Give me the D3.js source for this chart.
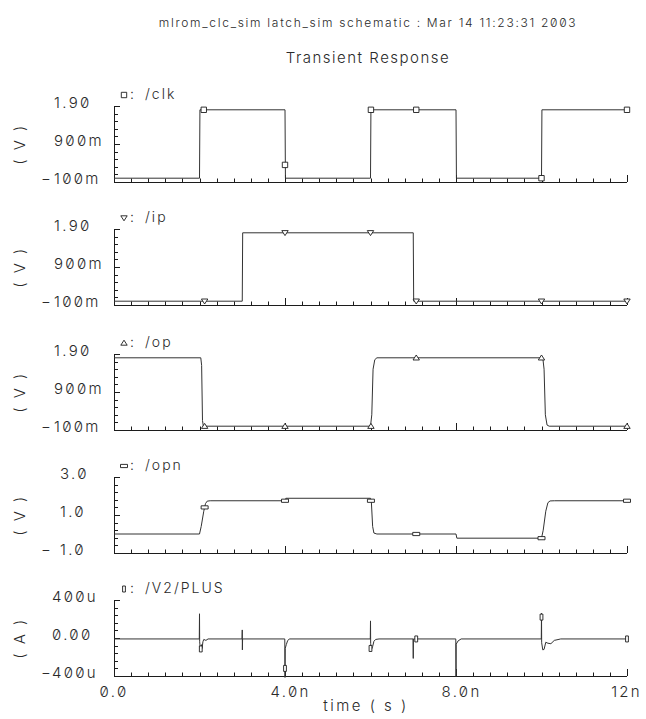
<!DOCTYPE html>
<html>
<head>
<meta charset="utf-8">
<script src="https://cdn.jsdelivr.net/npm/d3@7"></script>
<style>
  html, body { margin: 0; padding: 0; background: #fff; }
  svg { display: block; }
  text {
    font-family: Inter, "DejaVu Sans", sans-serif;
    font-feature-settings: "zero" 1;
    font-weight: 300;
    fill: #2a2a2a;
  }
</style>
</head>
<body>
<svg id="chart" width="646" height="719"></svg>
<script>
// ---- data -------------------------------------------------------------
const headerText = "mlrom_clc_sim latch_sim schematic : Mar 14 11:23:31 2003";
const titleText = "Transient Response";
const xAxisTitle = "time ( s )";

const timeDomain = [0, 12];                     // ns
const timeTicks = [0, 4, 8, 12];
const timeTickLabels = ["0.0", "4.0n", "8.0n", "12n"];

const signalNames = ["/clk", "/ip", "/op", "/opn", "/V2/PLUS"];
const yUnits = ["( V )", "( V )", "( V )", "( V )", "( A )"];
const yDomains = [[-0.1, 1.9], [-0.1, 1.9], [-0.1, 1.9], [-1, 3], [-400, 400]];
const yTickLabels = [
  ["-100m", "900m", "1.90"],
  ["-100m", "900m", "1.90"],
  ["-100m", "900m", "1.90"],
  ["-1.0", "1.0", "3.0"],
  ["-400u", "0.00", "400u"]
];

// waveforms: [time (ns), value]  (V for nodes, uA for V2/PLUS)
const clkWave = [[0, 0], [2.0, 0], [2.01, 1.8], [4.0, 1.8], [4.01, 0], [6.0, 0], [6.01, 1.8],
  [8.0, 1.8], [8.01, 0], [10.0, 0], [10.01, 1.8], [12, 1.8]];
const clkMarks = [[2.1, 1.8], [4.0, 0.35], [6.01, 1.8], [7.07, 1.8], [10.0, 0], [12, 1.8]];

const ipWave = [[0, 0], [3.0, 0], [3.01, 1.8], [7.0, 1.8], [7.01, 0], [12, 0]];
const ipMarks = [[2.12, 0], [4.0, 1.8], [6.0, 1.8], [7.07, 0], [10.0, 0], [12, 0]];

const opWave = [[0, 1.8], [2.03, 1.8], [2.05, 1.6], [2.07, 0.15], [2.09, 0], [6.0, 0],
  [6.03, 0.3], [6.06, 1.5], [6.1, 1.75], [6.15, 1.8], [10.03, 1.8], [10.06, 1.5],
  [10.09, 0.3], [10.13, 0.03], [10.18, 0], [12, 0]];
const opMarks = [[2.12, 0], [4.0, 0], [6.01, 0], [7.07, 1.8], [10.0, 1.8], [12, 0]];

const opnWave = [[0, 0], [2.0, 0], [2.04, 0.4], [2.1, 1.2], [2.14, 1.6], [2.18, 1.73],
  [2.25, 1.75], [4.0, 1.75], [4.02, 1.88], [6.0, 1.88], [6.02, 1.7], [6.05, 0.4],
  [6.08, 0.05], [6.15, 0], [8.0, 0], [8.02, -0.22], [10.0, -0.22], [10.04, 0.2],
  [10.1, 1.2], [10.15, 1.65], [10.2, 1.74], [10.3, 1.75], [12, 1.75]];
const opnMarks = [[2.12, 1.4], [4.0, 1.75], [6.01, 1.75], [7.07, 0], [10.0, -0.22], [12, 1.75]];

const v2Wave = [[0, -10], [1.995, -10], [2.0, 255], [2.004, -40], [2.02, -115], [2.035, -120],
  [2.05, -70], [2.06, -110], [2.08, -40], [2.1, -15], [2.15, -25], [2.2, -10],
  [2.995, -10], [3.0, 85], [3.003, -125], [3.008, -10],
  [3.995, -10], [4.0, -415], [4.005, -110], [4.03, -70], [4.06, -30], [4.1, -10],
  [5.995, -10], [6.0, 180], [6.004, -60], [6.02, -125], [6.05, -90], [6.08, -35],
  [6.12, -15], [6.2, -10],
  [6.995, -10], [7.0, -215], [7.004, -10],
  [7.995, -10], [8.0, -405], [8.004, -65], [8.05, -30], [8.12, -10],
  [9.995, -10], [10.0, 260], [10.004, -50], [10.03, -125], [10.06, -120], [10.1, -45],
  [10.15, -55], [10.22, -60], [10.3, -25], [10.45, -10], [12, -10]];
const v2Marks = [[2.03, -115], [4.0, -320], [6.0, -110], [7.07, -10], [10.0, 220], [12, -10]];

const waves = [clkWave, ipWave, opWave, opnWave, v2Wave];
const marks = [clkMarks, ipMarks, opMarks, opnMarks, v2Marks];
const markShapes = ["square", "triDown", "triUp", "flat", "tall"];

// ---- layout ------------------------------------------------------------
const W = 646, H = 719;
const plotLeft = 114, plotRight = 627;
const panelTops = [106, 229, 354, 477, 600];
const panelH = 76;
const labelDigitX = [54, 54, 54, 60, 52];
const minusX = 41;
const ink = "#1c1c1c";
const traceInk = "#333";

const svg = d3.select("#chart");
svg.append("rect").attr("width", W).attr("height", H).attr("fill", "#fff");

const x = d3.scaleLinear().domain(timeDomain).range([plotLeft, plotRight]);

// headers
svg.append("text").attr("x", 368).attr("y", 27).attr("text-anchor", "middle")
  .style("font-size", "12px").style("letter-spacing", "1.7px").text(headerText);
svg.append("text").attr("x", 368).attr("y", 63).attr("text-anchor", "middle")
  .style("font-size", "15px").style("letter-spacing", "1.5px").text(titleText);

function markPath(shape) {
  switch (shape) {
    case "square": return "M-2.7,-2.7H2.7V2.7H-2.7Z";
    case "triDown": return "M-3.2,-2.2H3.2L0,2.8Z";
    case "triUp": return "M-3.2,2.2H3.2L0,-2.8Z";
    case "flat": return "M-3.5,-1.6H3.5V1.6H-3.5Z";
    case "tall": return "M-1.4,-3H1.4V3H-1.4Z";
  }
}

waves.forEach((wave, i) => {
  const top = panelTops[i], bottom = top + panelH;
  const dom = yDomains[i];
  const y = d3.scaleLinear().domain(dom).range([bottom, top]);
  const g = svg.append("g");

  // y axis line + ticks (inside)
  const yTicks = d3.range(11).map(k => dom[0] + (dom[1] - dom[0]) * k / 10);
  g.append("line").attr("x1", plotLeft).attr("x2", plotLeft)
    .attr("y1", top).attr("y2", bottom).attr("stroke", ink).attr("stroke-width", 1)
    .attr("shape-rendering", "crispEdges");
  g.selectAll(".yt").data(yTicks.slice(1)).join("line")
    .attr("x1", plotLeft).attr("x2", (d, k) => plotLeft + ((k === 4 || k === 9) ? 6 : 4))
    .attr("y1", d => Math.round(y(d)) + 0.5).attr("y2", d => Math.round(y(d)) + 0.5)
    .attr("stroke", ink).attr("stroke-width", 1);

  // x axis line + ticks (inside)
  g.append("line").attr("x1", plotLeft).attr("x2", plotRight)
    .attr("y1", bottom).attr("y2", bottom).attr("stroke", ink).attr("stroke-width", 1)
    .attr("shape-rendering", "crispEdges");
  const xTicks = d3.range(31).map(k => k * 0.4);
  g.selectAll(".xt").data(xTicks.slice(1)).join("line")
    .attr("x1", d => Math.round(x(d)) + 0.5).attr("x2", d => Math.round(x(d)) + 0.5)
    .attr("y1", bottom).attr("y2", (d, k) => bottom - ((k + 1) % 10 === 0 ? 7 : 3.5))
    .attr("stroke", ink).attr("stroke-width", 1);

  // y tick labels: bottom, middle, top
  const labelVals = [dom[0], (dom[0] + dom[1]) / 2, dom[1]];
  labelVals.forEach((v, k) => {
    const lab = yTickLabels[i][k];
    const t = g.append("text").attr("y", y(v) + 2).style("font-size", "15px")
      .style("letter-spacing", "2.3px");
    if (lab.startsWith("-")) {
      t.append("tspan").attr("x", minusX).text("\u2212");
      t.append("tspan").attr("x", labelDigitX[i]).text(lab.slice(1));
    } else {
      t.attr("x", labelDigitX[i]).text(lab);
    }
  });

  // unit label
  g.append("text").attr("transform", `translate(25,${(top + bottom) / 2}) rotate(-90)`)
    .attr("text-anchor", "middle").style("font-size", "15px").style("letter-spacing", "2.5px")
    .text(yUnits[i]);

  // legend
  g.append("path").attr("d", markPath(markShapes[i]))
    .attr("transform", `translate(124,${top - 11})`)
    .attr("fill", "none").attr("stroke", ink).attr("stroke-width", 0.9);
  g.append("text").attr("x", 130).attr("y", top - 7).style("font-size", "14px").text(":");
  g.append("text").attr("x", 145).attr("y", top - 7).style("font-size", "14px")
    .style("letter-spacing", "2px").text(signalNames[i]);

  // trace
  const line = d3.line().x(d => x(d[0])).y(d => y(d[1]));
  g.append("path").datum(wave).attr("d", line)
    .attr("fill", "none").attr("stroke", traceInk).attr("stroke-width", 1);

  // markers
  g.selectAll(".mk").data(marks[i]).join("path")
    .attr("d", markPath(markShapes[i]))
    .attr("transform", d => `translate(${x(d[0])},${y(d[1])})`)
    .attr("fill", "#fff").attr("stroke", ink).attr("stroke-width", 0.9);
});

// time axis labels (under the bottom panel)
const axisBottom = panelTops[4] + panelH;
timeTicks.forEach((t, k) => {
  const lab = timeTickLabels[k];
  const m = lab.match(/^([-0-9.]+)(.*)$/);
  const num = m[1], suffix = m[2];
  const tx = svg.append("text").attr("y", axisBottom + 21).style("font-size", "15px")
    .style("letter-spacing", "2.3px").text(num);
  const nw = tx.node().getComputedTextLength();
  let sw = 0, sEl = null;
  if (suffix) {
    sEl = svg.append("text").attr("y", axisBottom + 21).style("font-size", "15px")
      .style("letter-spacing", "2.3px").text(suffix);
    sw = sEl.node().getComputedTextLength();
  }
  let left = x(t) - nw / 2;
  if (left + nw + sw > W - 4) left = W - 4 - nw - sw;
  tx.attr("x", left);
  if (sEl) sEl.attr("x", left + nw);
});

svg.append("text").attr("x", 366).attr("y", axisBottom + 35).attr("text-anchor", "middle")
  .style("font-size", "15px").style("letter-spacing", "2.5px").text(xAxisTitle);
</script>
</body>
</html>
